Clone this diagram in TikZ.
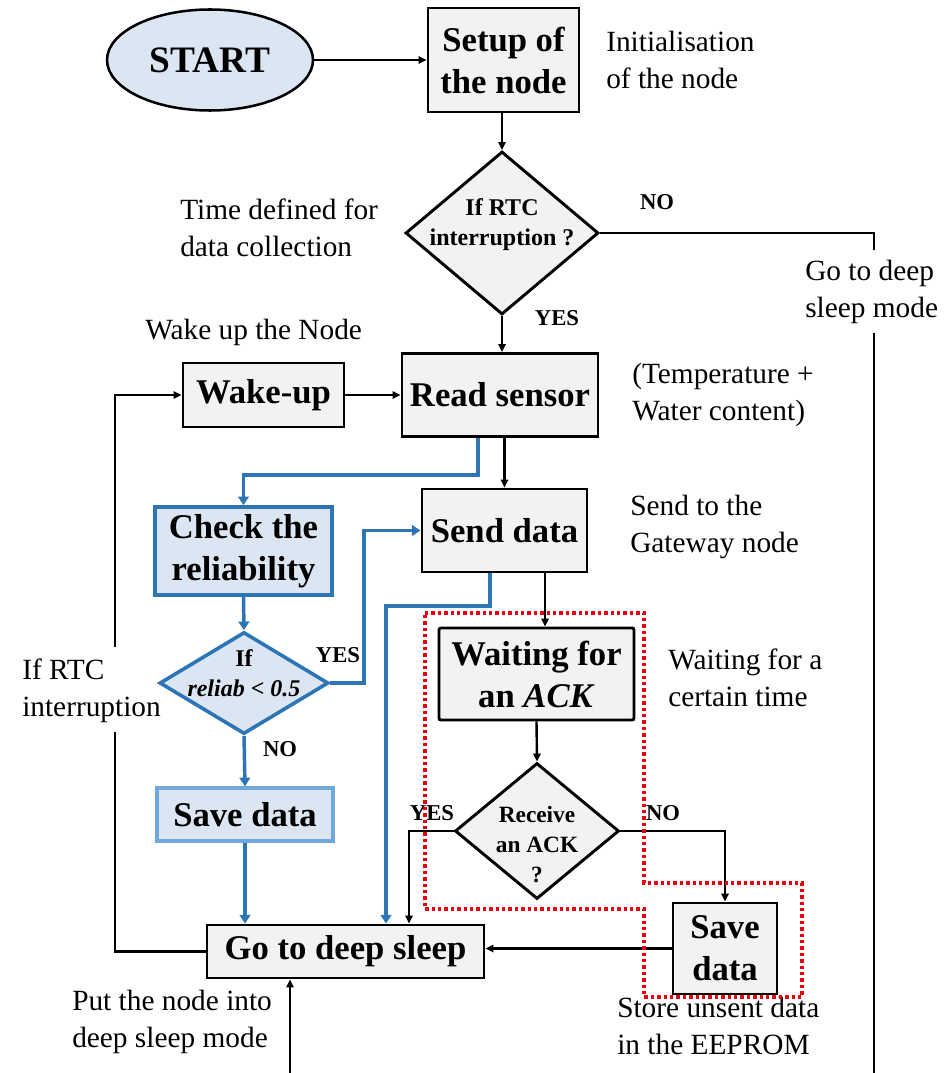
\documentclass[tikz,border=0pt]{standalone}
\usepackage{fontspec}
\setmainfont{Liberation Serif}
\usetikzlibrary{arrows.meta,shapes.geometric}
\definecolor{boxgray}{HTML}{F2F2F2}
\definecolor{paleblue}{HTML}{DCE6F2}
\definecolor{flowblue}{HTML}{2E75B6}
\definecolor{softblue}{HTML}{6FA8DC}
\definecolor{dotred}{HTML}{E8000B}
\tikzset{
  sz/.style 2 args={minimum width=#1*0.75pt, minimum height=#2*0.75pt},
  box/.style={draw, line width=2.2pt, fill=boxgray, inner sep=0pt, align=center,
    font=\fontsize{26}{31.5}\selectfont\bfseries},
  bluebox/.style={box, draw=flowblue, fill=paleblue, line width=2.7pt},
  dia/.style={diamond, draw, line width=2.2pt, fill=boxgray, inner sep=0pt},
  diatext/.style={inner sep=0pt, align=center, font=\fontsize{18}{22.5}\selectfont\bfseries},
  note/.style={anchor=west, align=left, inner sep=0pt, font=\fontsize{22}{27.5}\selectfont},
  tag/.style={inner sep=0pt, font=\fontsize{17}{20}\selectfont\bfseries},
  ln/.style={line width=1.8pt},
  arr/.style={ln, -{Triangle[length=6pt,width=5.5pt]}},
  barr/.style={line width=2.6pt, draw=flowblue, -{Triangle[length=6.5pt,width=8pt]}},
  reddots/.style={draw=dotred, line width=2.8pt, dash pattern=on 2.6pt off 2.2pt},
}
\begin{document}
\begin{tikzpicture}[x=0.75pt,y=-0.75pt]
\useasboundingbox (0,0) rectangle (951,1073);

% ---- process nodes ----
\node[draw, ellipse, line width=1.9pt, fill=paleblue, sz={206}{101}, inner sep=0pt,
      font=\fontsize{28}{32}\selectfont\bfseries] (start) at (210,60) {START};
\node[box, sz={151}{104}] (setup) at (503.5,60) {Setup of\\the node};
\node[dia, sz={193}{163}] (d1) at (502,233) {};
\node[diatext] (d1t) at ([yshift=6pt]d1) {If RTC\\interruption ?};
\node[box, sz={196}{83}] (read) at (500,395) {Read sensor};
\node[box, sz={161}{64}] (wake) at (263.5,395) {Wake-up};
\node[box, sz={165}{83}] (send) at (504.5,530.5) {Send data};
\node[bluebox, sz={177}{88}] (check) at (243.5,551) {Check the\\reliability};
\node[dia, draw=flowblue, fill=paleblue, line width=2.7pt, sz={169}{102}] (d2) at (244,683) {};
\node[diatext] (d2t) at ([yshift=7pt]d2) {If\\\textit{reliab < 0.5}};
\node[bluebox, draw=softblue, line width=2.5pt, sz={176}{53}] (save1) at (245,814.5) {Save data};
\node[box, sz={277}{53}] (sleep) at (345.5,951.5) {Go to deep sleep};
\node[box, sz={195}{92}, rounded corners=1.5pt] (wait) at (536.5,674) {Waiting for\\an \textit{ACK}};
\node[dia, sz={164}{136}] (d3) at (537,831) {};
\node[diatext, font=\fontsize{17.5}{22.5}\selectfont\bfseries] (d3t) at ([yshift=-10pt]d3) {Receive\\an ACK\\?};
\node[box, sz={104}{91}] (save2) at (725,948.5) {Save\\data};

% ---- notes ----
\node[note] (n1) at (606,60) {Initialisation\\of the node};
\node[note] (n2) at (180,228) {Time defined for\\data collection};
\node[note] (n3) at (145,332) {Wake up the Node};
\node[note] (n4) at (632,395) {(Temperature +\\Water content)};
\node[note] (n5) at (630,527) {Send to the\\Gateway node};
\node[note] (n6) at (22,691) {If RTC\\interruption};
\node[note] (n7) at (668,678) {Waiting for a\\certain time};
\node[note] (n8) at (617,1026) {Store unsent data\\in the EEPROM};
\node[note] (n9) at (72,1022) {Put the node into\\deep sleep mode};
\node[note] (n10) at (805,292) {Go to deep\\sleep mode};

% ---- branch tags ----
\node[tag] (t1) at (657,202) {NO};
\node[tag] (t2) at (557,318) {YES};
\node[tag] (t3) at (338,655) {YES};
\node[tag] (t4) at (280,749) {NO};
\node[tag] (t5) at (432,813) {YES};
\node[tag] (t6) at (663,813) {NO};

% ---- free ends and bends ----
\coordinate (rtop) at (874,233);
\coordinate (rgap1) at (874,250);
\coordinate (rgap2) at (874,333);
\coordinate (rbot) at (874,1073);
\coordinate (lbot) at (115,951.5);
\coordinate (lgap1) at (115,732);
\coordinate (lgap2) at (115,647);
\coordinate (ltop) at (115,395);
\coordinate (cy) at (364,683);
\coordinate (sb) at (386,606);
\coordinate (yb) at (409,831);
\coordinate (bb) at (290,1073);

% ---- black connectors ----
\draw[arr] (start) -- (setup);
\draw[arr] (d1.north |- setup.south) -- (d1.north);
\draw[arr] (d1.south) -- (d1.south |- read.north);
\draw[ln] (d1.east) -- (rtop) -- (rgap1);
\draw[ln] (rgap2) -- (rbot);
\draw[arr] (wake) -- (read);
\draw[arr] (send.north |- read.south) -- (send.north);
\draw[arr] ([xshift=30.4pt]send.south) -- ([xshift=30.4pt]send.south |- wait.north);
\draw[arr] (wait.south) -- (d3.north);
\draw[arr] (d3.west) -- (yb) -- (yb |- sleep.north);
\draw[arr] (d3.east) -| (save2.north);
\draw[arr] (save2.west) -- (save2.west -| sleep.east);
\draw[ln] (sleep.west) -- (lbot) -- (lgap1);
\draw[arr] (lgap2) -- (ltop) -- (wake.west);
\draw[arr] (bb) -- (bb |- sleep.south);

% ---- reliability check path ----
\draw[barr] ([xshift=-16.5pt]read.south) -- ++(0,37) -| (check.north);
\draw[barr] (check.south) -- (d2.north);
\draw[barr] (d2.east) -- (cy) |- (send.west);
\draw[barr] (d2.south) -- (save1.north);
\draw[barr] (save1.south) -- (save1.south |- sleep.north);
\draw[barr] ([xshift=-10.9pt]send.south) |- (sb) -- (sb |- sleep.north);

% ---- acknowledgement region ----
\draw[reddots] (425,613) -- (644,613) -- (644,883) -- (802,883) -- (802,997)
  -- (644,997) -- (644,909) -- (425,909) -- cycle;
\end{tikzpicture}
\end{document}
